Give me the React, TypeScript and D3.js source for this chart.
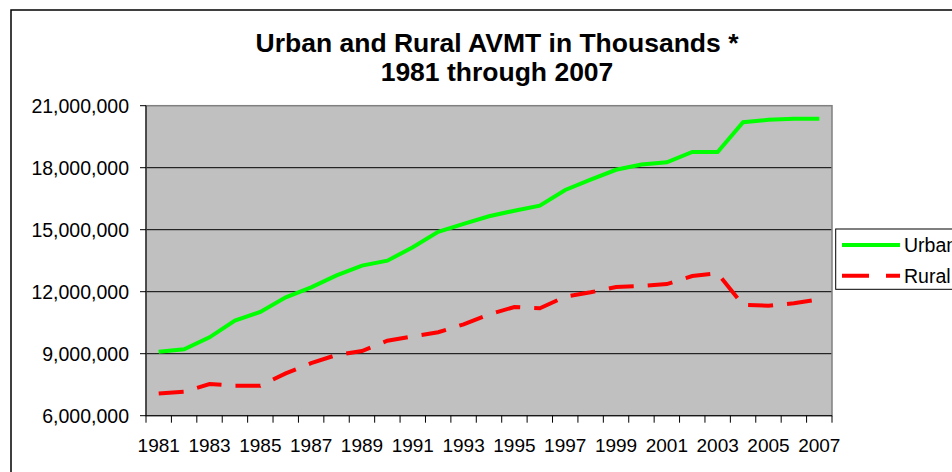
import React from 'react';
import * as d3 from 'd3';

const years = [
  '1981', '1982', '1983', '1984', '1985', '1986', '1987', '1988', '1989',
  '1990', '1991', '1992', '1993', '1994', '1995', '1996', '1997', '1998',
  '1999', '2000', '2001', '2002', '2003', '2004', '2005', '2006', '2007',
];

const urban = [
  9100000, 9210000, 9790000, 10600000, 11020000, 11730000, 12210000, 12790000,
  13260000, 13500000, 14150000, 14900000, 15280000, 15650000, 15920000, 16160000,
  16920000, 17420000, 17900000, 18150000, 18260000, 18760000, 18760000, 20200000,
  20320000, 20370000, 20370000,
];

const rural = [
  7080000, 7160000, 7530000, 7450000, 7450000, 8050000, 8540000, 8940000,
  9130000, 9630000, 9840000, 10040000, 10420000, 10900000, 11260000, 11200000,
  11760000, 11970000, 12230000, 12280000, 12370000, 12760000, 12890000, 11360000,
  11320000, 11440000, 11630000,
];

const yTicks = [6000000, 9000000, 12000000, 15000000, 18000000, 21000000];
const xLabels = ['1981', '1983', '1985', '1987', '1989', '1991', '1993', '1995',
  '1997', '1999', '2001', '2003', '2005', '2007'];

const font = 'Arial, "Liberation Sans", sans-serif';

export default function App() {
  const left = 146, right = 832, top = 105.7, bottom = 415.7;

  const x = d3.scaleBand<string>().domain(years).range([left, right]).padding(0);
  const y = d3.scaleLinear().domain([6000000, 21000000]).range([bottom, top]);
  const fmt = d3.format(',');

  const line = d3.line<number>()
    .x((_, i) => x(years[i])! + x.bandwidth() / 2)
    .y(d => y(d));

  const boundaries = d3.range(years.length + 1).map(i => left + i * x.bandwidth());

  return (
    <svg width={952} height={472}
      style={{ position: 'absolute', left: 0, top: 0, background: '#fff' }}
      fontFamily={font}>
      {/* chart frame, runs off the page on right and bottom */}
      <rect x={11} y={10} width={1000} height={500} fill="#fff" stroke="#000" strokeWidth={1.5} />

      <text x={497} y={52} textAnchor="middle" fontSize={26.5} fontWeight="bold">
        Urban and Rural AVMT in Thousands *
      </text>
      <text x={497} y={81} textAnchor="middle" fontSize={26.5} fontWeight="bold">
        1981 through 2007
      </text>

      {/* plot area */}
      <rect x={left} y={top} width={right - left} height={bottom - top} fill="#C0C0C0" />
      {yTicks.slice(1, -1).map(t => (
        <line key={t} x1={left} x2={right} y1={y(t)} y2={y(t)} stroke="#000" strokeWidth={1} />
      ))}
      <rect x={left} y={top} width={right - left} height={bottom - top}
        fill="none" stroke="#808080" strokeWidth={1.5} />

      {/* y axis */}
      <line x1={left} x2={left} y1={top} y2={bottom} stroke="#000" strokeWidth={1} />
      {yTicks.map(t => (
        <g key={t}>
          <line x1={left - 6} x2={left} y1={y(t)} y2={y(t)} stroke="#000" strokeWidth={1} />
          <text x={129} y={y(t)} dy="0.35em" textAnchor="end" fontSize={19.5}>{fmt(t)}</text>
        </g>
      ))}

      {/* x axis */}
      <line x1={left} x2={right} y1={bottom} y2={bottom} stroke="#000" strokeWidth={1} />
      {boundaries.map((b, i) => (
        <line key={i} x1={b} x2={b} y1={bottom} y2={bottom + 7} stroke="#000" strokeWidth={1} />
      ))}
      {xLabels.map(l => (
        <text key={l} x={x(l)! + x.bandwidth() / 2} y={452} textAnchor="middle" fontSize={19}>{l}</text>
      ))}

      {/* series */}
      <path d={line(urban)!} fill="none" stroke="#00FF00" strokeWidth={4} />
      <path d={line(rural)!} fill="none" stroke="#FF0000" strokeWidth={4} strokeDasharray="25,14" />

      {/* legend */}
      <rect x={835.7} y={229} width={200} height={60.3} fill="#fff" stroke="#000" strokeWidth={1} />
      <line x1={842} x2={900} y1={245} y2={245} stroke="#00FF00" strokeWidth={4} />
      <text x={904} y={252} fontSize={19.5}>Urban</text>
      <line x1={842} x2={900} y1={275.7} y2={275.7} stroke="#FF0000" strokeWidth={4} strokeDasharray="27,17" />
      <text x={904} y={282.5} fontSize={19.5}>Rural</text>
    </svg>
  );
}
